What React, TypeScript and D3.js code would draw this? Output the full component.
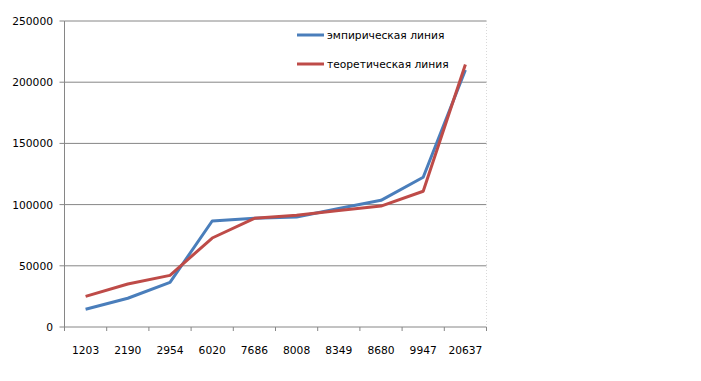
import React from "react";
import * as d3 from "d3";

const categories = ["1203", "2190", "2954", "6020", "7686", "8008", "8349", "8680", "9947", "20637"];
const empirical = [14500, 23500, 36500, 86600, 88800, 89800, 96800, 103500, 122300, 210000];
const theoretical = [25000, 35100, 42200, 72700, 88800, 91300, 95200, 98800, 110900, 214500];
const yTicks = [0, 50000, 100000, 150000, 200000, 250000];
const seriesNames = ["эмпирическая линия", "теоретическая линия"];
const colors = ["#4A7EBB", "#BE4B48"];

export default function App() {
  const W = 701, H = 381;
  const left = 64.5, right = 486.5, top = 21, bottom = 327;
  const x = d3.scaleBand<string>().domain(categories).range([left, right]);
  const y = d3.scaleLinear().domain([0, 250000]).range([bottom, top]);
  const line = d3.line<number>()
    .x((_, i) => (x(categories[i]) as number) + x.bandwidth() / 2)
    .y((d) => y(d));
  const font = "Tahoma, 'DejaVu Sans', sans-serif";
  const fs = 10.7;
  const series = [empirical, theoretical];
  return (
    <svg width={W} height={H} style={{ position: "absolute", left: 0, top: 0 }}>
      <rect width={W} height={H} fill="#fff" />
      {yTicks.map((t) => (
        <g key={t}>
          {t > 0 && <line x1={left} x2={right} y1={y(t)} y2={y(t)} stroke="#868686" strokeWidth={1} />}
          <line x1={left - 5} x2={left} y1={y(t)} y2={y(t)} stroke="#868686" />
          <text x={53} y={y(t) + 4} textAnchor="end" fontSize={fs} fontFamily={font} fill="#000">{t}</text>
        </g>
      ))}
      <line x1={right} x2={right} y1={top} y2={bottom} stroke="#d9d9d9" strokeDasharray="1,2" />
      <line x1={left} x2={left} y1={top} y2={bottom} stroke="#868686" />
      <line x1={left} x2={right} y1={bottom} y2={bottom} stroke="#868686" />
      {categories.map((c, i) => (
        <line key={"t" + i} x1={x(c) as number} x2={x(c) as number} y1={bottom} y2={bottom + 4} stroke="#868686" />
      ))}
      <line x1={right} x2={right} y1={bottom} y2={bottom + 4} stroke="#868686" />
      {categories.map((c) => (
        <text key={c} x={(x(c) as number) + x.bandwidth() / 2} y={354} textAnchor="middle" fontSize={fs} fontFamily={font} fill="#000">{c}</text>
      ))}
      {series.map((s, i) => (
        <path key={i} d={line(s) as string} fill="none" stroke={colors[i]} strokeWidth={3} strokeLinejoin="round" />
      ))}
      {seriesNames.map((n, i) => (
        <g key={n}>
          <line x1={297} x2={324} y1={35 + i * 29} y2={35 + i * 29} stroke={colors[i]} strokeWidth={3} />
          <text x={327} y={39 + i * 29} fontSize={fs} fontFamily={font} fill="#000">{n}</text>
        </g>
      ))}
    </svg>
  );
}
